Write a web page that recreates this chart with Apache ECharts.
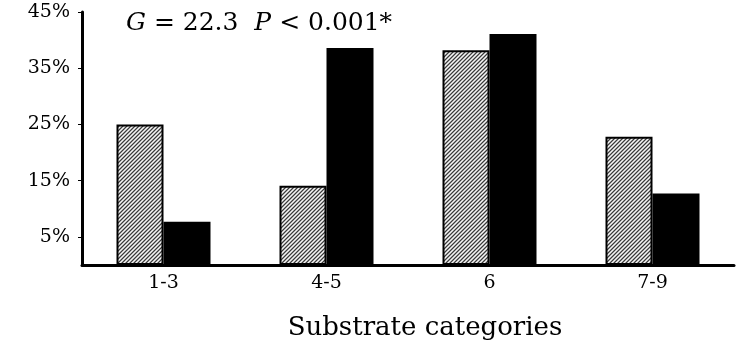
<!DOCTYPE html>
<html>
<head>
<meta charset="utf-8">
<script src="https://cdn.jsdelivr.net/npm/echarts@6/dist/echarts.min.js"></script>
<style>
html,body{margin:0;padding:0;background:#fff;}
#chart{width:740px;height:352px;}
</style>
</head>
<body>
<div id="chart"></div>
<script>
const categories = ['1-3', '4-5', '6', '7-9'];
const hatchedValues = [25.0, 14.1, 38.2, 22.8];
const blackValues = [7.7, 38.6, 41.1, 12.7];
const yTickValues = [5, 15, 25, 35, 45];
const annotationText = '{i|G} = 22.3  {i|P} < 0.001*';
const xAxisTitle = 'Substrate categories';

function makeHatch() {
  const c = document.createElement('canvas');
  c.width = 4; c.height = 4;
  const ctx = c.getContext('2d');
  const cols = ['#3a3a3a', '#a8a8a8', '#f6f6f6', '#a8a8a8'];
  for (let y = 0; y < 4; y++) {
    for (let x = 0; x < 4; x++) {
      ctx.fillStyle = cols[(x + y) % 4];
      ctx.fillRect(x, y, 1, 1);
    }
  }
  return c;
}

const serif = '"DejaVu Serif", "Liberation Serif", serif';
const chart = echarts.init(document.getElementById('chart'), null, {renderer: 'canvas'});
chart.setOption({
  animation: false,
  backgroundColor: '#ffffff',
  title: {
    text: annotationText,
    left: 121,
    top: 6,
    textStyle: {
      fontFamily: serif,
      fontSize: 25,
      fontWeight: 'normal',
      color: '#000',
      rich: {
        i: {fontFamily: serif, fontSize: 25, fontStyle: 'italic', color: '#000'}
      }
    }
  },
  grid: {left: 82, right: 6, top: 12, bottom: 87, containLabel: false},
  xAxis: {
    type: 'category',
    data: categories,
    axisLine: {show: true, lineStyle: {color: '#000', width: 3}},
    axisTick: {show: false},
    axisLabel: {fontFamily: serif, fontSize: 19, color: '#000', margin: 9},
    name: xAxisTitle,
    nameLocation: 'middle',
    nameGap: 50,
    nameTextStyle: {fontFamily: serif, fontSize: 26, color: '#000', padding: [0, 0, 0, 34]}
  },
  yAxis: {
    type: 'value',
    min: 0,
    max: 45,
    axisLine: {show: true, lineStyle: {color: '#000', width: 3}},
    axisTick: {show: true, length: 4, customValues: yTickValues, lineStyle: {color: '#000', width: 1}},
    axisLabel: {
      fontFamily: serif, fontSize: 19, color: '#000', margin: 12,
      customValues: yTickValues,
      formatter: '{value}%'
    },
    splitLine: {show: false}
  },
  series: [
    {
      type: 'bar',
      data: hatchedValues,
      barWidth: 47,
      barGap: '0%',
      itemStyle: {color: {image: makeHatch(), repeat: 'repeat'}, borderColor: '#000', borderWidth: 2}
    },
    {
      type: 'bar',
      data: blackValues,
      barWidth: 47,
      barGap: '0%',
      itemStyle: {color: '#000', borderColor: '#000', borderWidth: 2}
    }
  ]
});
</script>
</body>
</html>
